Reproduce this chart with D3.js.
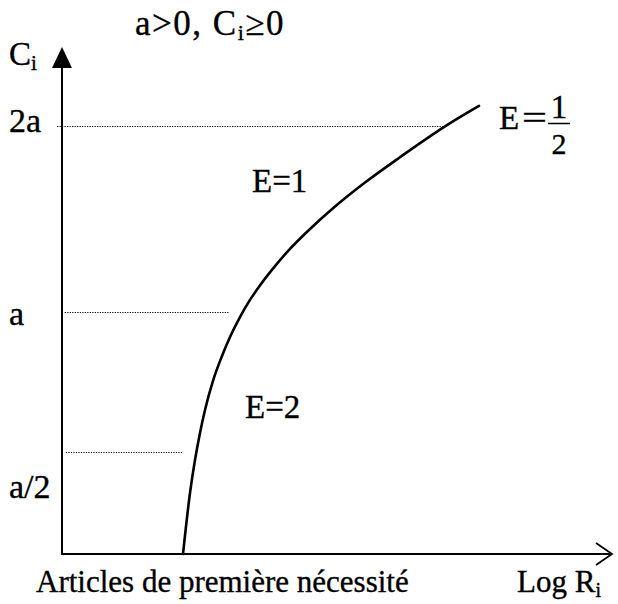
<!DOCTYPE html>
<html>
<head>
<meta charset="utf-8">
<script src="https://cdn.jsdelivr.net/npm/d3@7"></script>
<style>
  html, body { margin: 0; padding: 0; background: #fff; }
  svg { display: block; }
  text { font-family: "Liberation Serif", "Times New Roman", serif; fill: #000;
         stroke: #000; stroke-width: 0.35px; }
</style>
</head>
<body>
<svg id="chart" width="618" height="604"></svg>
<script>
// Engel curve for a basic necessity: consumption C_i against log income.
// Income axis in arbitrary log units, consumption in units of a.
const logIncome = [2.200, 2.327, 2.418, 2.509, 2.600, 2.745, 2.909, 3.055, 3.236, 3.418,
                   3.618, 3.873, 4.145, 4.509, 4.964, 5.509, 6.145, 6.964, 7.582];
const consumption = [0.000, 0.299, 0.461, 0.568, 0.650, 0.754, 0.843, 0.911, 0.982, 1.065,
                     1.151, 1.247, 1.339, 1.446, 1.567, 1.696, 1.832, 1.998, 2.108];

// Reference levels of consumption and their labels
const levelValues = [2, 1, 0.5];
const levelLabels = ["2a", "a", "a/2"];
// Extent of each dotted guide along the income axis
const guideFrom = [-0.09, 0.05, 0.07];
const guideTo = [6.964, 3.05, 2.20];

const svg = d3.select("#chart");

// Schematic (non-uniform) consumption axis
const x = d3.scaleLinear().domain([0, 10]).range([62, 612]);
const y = d3.scaleLinear().domain([0, 0.5, 1, 2]).range([554, 452, 312, 126]);
const yTop = 2.425;

// Dotted guides
svg.append("g").selectAll("line")
  .data(levelValues)
  .join("line")
  .attr("x1", (d, i) => x(guideFrom[i]))
  .attr("x2", (d, i) => x(guideTo[i]))
  .attr("y1", d => y(d) + 0.5)
  .attr("y2", d => y(d) + 0.5)
  .attr("stroke", "#000")
  .attr("stroke-width", 1.2)
  .attr("stroke-dasharray", "1.2,1.3");

// Level labels at the left
const labelDy = [6, 13, 46];
svg.append("g").selectAll("text")
  .data(levelLabels)
  .join("text")
  .attr("x", 9)
  .attr("y", (d, i) => y(levelValues[i]) + labelDy[i])
  .attr("font-size", 34)
  .text(d => d);

// Axes
const axes = svg.append("g").attr("stroke", "#000").attr("fill", "none");
axes.append("line")
  .attr("x1", x(0)).attr("x2", x(0))
  .attr("y1", y(0) + 1).attr("y2", y(yTop) + 20)
  .attr("stroke-width", 2);
axes.append("path")
  .attr("d", `M${x(0)},${y(yTop)} L${x(0) - 10},${y(yTop) + 21} L${x(0) + 10},${y(yTop) + 21} Z`)
  .attr("fill", "#000").attr("stroke", "none");
axes.append("line")
  .attr("x1", x(0) - 1).attr("x2", x(10))
  .attr("y1", y(0)).attr("y2", y(0))
  .attr("stroke-width", 2);
axes.append("path")
  .attr("d", `M${x(10) - 16},${y(0) - 11} L${x(10)},${y(0)} L${x(10) - 16},${y(0) + 11}`)
  .attr("stroke-width", 1.8);

// The curve
const pts = logIncome.map((v, i) => [v, consumption[i]]);
svg.append("path")
  .datum(pts)
  .attr("fill", "none")
  .attr("stroke", "#000")
  .attr("stroke-width", 2.6)
  .attr("stroke-linecap", "round")
  .attr("d", d3.line().x(d => x(d[0])).y(d => y(d[1])).curve(d3.curveMonotoneX));

// Text with subscripts
function subText(sel, parts, subSize) {
  parts.forEach(p => {
    const t = sel.append("tspan").text(p.t);
    if (p.sub) t.attr("font-size", subSize).attr("dy", 5);
    if (p.up) t.attr("dy", -5);
  });
}

const title = svg.append("text").attr("x", 135).attr("y", 35).attr("font-size", 35)
  .attr("letter-spacing", 1.5);
subText(title, [{ t: "a>0, C" }, { t: "i", sub: true }, { t: "≥0", up: true }], 22);

const yLab = svg.append("text").attr("x", 9).attr("y", 65).attr("font-size", 33);
subText(yLab, [{ t: "C" }, { t: "i", sub: true }], 21);

const xLab = svg.append("text").attr("x", 517).attr("y", 592).attr("font-size", 31);
subText(xLab, [{ t: "Log R" }, { t: "i", sub: true }], 20);

svg.append("text").attr("x", 36).attr("y", 592).attr("font-size", 31)
  .text("Articles de première nécessité");

// Elasticity annotations
svg.append("text").attr("x", 252).attr("y", 192).attr("font-size", 33).text("E=1");
svg.append("text").attr("x", 245).attr("y", 418).attr("font-size", 33).text("E=2");
svg.append("text").attr("x", 499).attr("y", 129).attr("font-size", 33).text("E");
svg.append("text").attr("x", 522).attr("y", 129).attr("font-size", 33)
  .attr("textLength", 25).attr("lengthAdjust", "spacingAndGlyphs").text("=");
svg.append("text").attr("x", 559).attr("y", 118).attr("font-size", 33)
  .attr("text-anchor", "middle").text("1");
svg.append("line").attr("x1", 548).attr("x2", 570).attr("y1", 123.5).attr("y2", 123.5)
  .attr("stroke", "#000").attr("stroke-width", 1.5);
svg.append("text").attr("x", 559).attr("y", 154).attr("font-size", 30)
  .attr("text-anchor", "middle").text("2");
</script>
</body>
</html>
